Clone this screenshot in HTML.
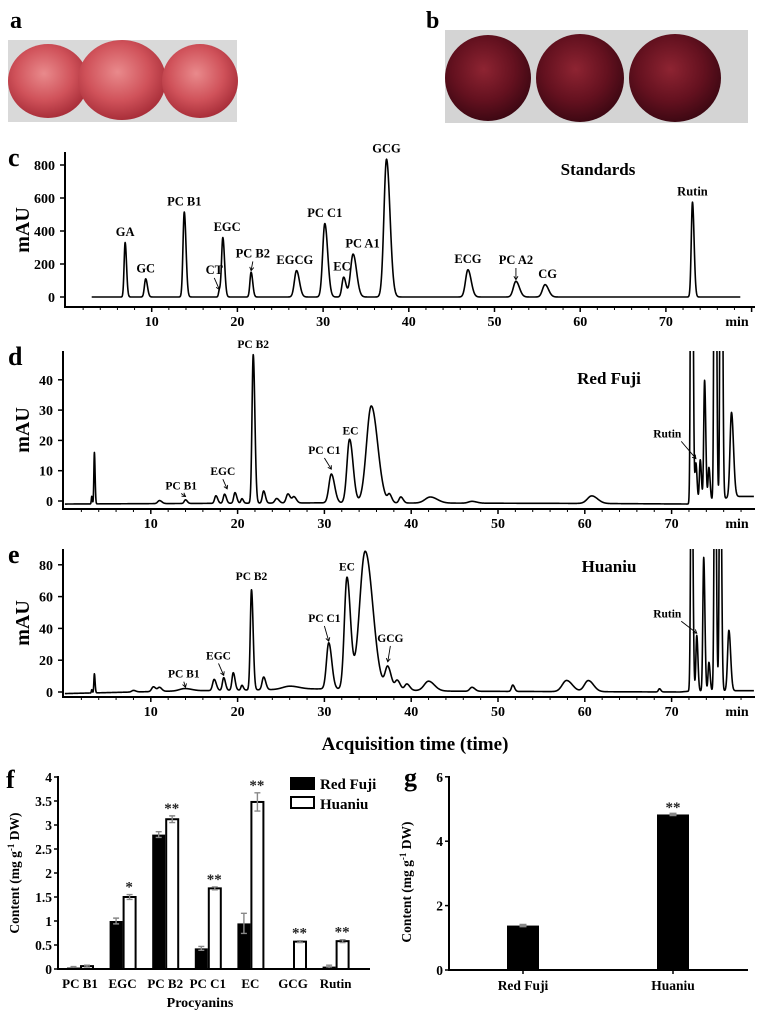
<!DOCTYPE html>
<html><head><meta charset="utf-8"><style>
html,body{margin:0;padding:0;background:#fff;}
svg{display:block;font-family:"Liberation Serif",serif;font-weight:bold;}
</style></head><body>
<svg id="fig" width="763" height="1017" viewBox="0 0 763 1017" xmlns="http://www.w3.org/2000/svg">
<defs>
<radialGradient id="appleA" cx="45%" cy="40%" r="60%"><stop offset="0" stop-color="#e98a8c"/><stop offset="0.6" stop-color="#d0525a"/><stop offset="1" stop-color="#a92f3a"/></radialGradient>
<radialGradient id="appleB" cx="45%" cy="40%" r="60%"><stop offset="0" stop-color="#8e2432"/><stop offset="0.6" stop-color="#64111f"/><stop offset="1" stop-color="#3e0813"/></radialGradient>
<clipPath id="clipD"><rect x="63" y="351" width="700" height="160"/></clipPath>
<clipPath id="clipE"><rect x="63" y="549" width="700" height="150"/></clipPath>
</defs>
<g>
<text x="10" y="28" font-size="24">a</text>
<rect x="8" y="40" width="229" height="82" fill="#d9d9d9"/>
<ellipse cx="48" cy="81" rx="40" ry="37" fill="url(#appleA)"/>
<ellipse cx="122" cy="80" rx="44" ry="40" fill="url(#appleA)"/>
<ellipse cx="200" cy="81" rx="38" ry="37" fill="url(#appleA)"/>
</g>
<g>
<text x="426" y="28" font-size="24">b</text>
<rect x="445" y="30" width="303" height="93" fill="#d4d4d4"/>
<ellipse cx="488" cy="78" rx="43" ry="43" fill="url(#appleB)"/>
<ellipse cx="580" cy="78" rx="44" ry="44" fill="url(#appleB)"/>
<ellipse cx="675" cy="78" rx="46" ry="44" fill="url(#appleB)"/>
</g>
<g id="chroms"></g>
<g id="bars"></g>
</svg>
<script>
// ---- Panel c (Standards) peaks ----
const cTimes = [6.9, 9.3, 13.8, 17.9, 18.3, 21.6, 26.9, 30.2, 32.4, 33.5, 37.4, 46.9, 52.5, 55.9, 73.1];
const cHeights = [330, 110, 515, 40, 360, 150, 160, 445, 120, 260, 835, 165, 95, 75, 575];
const cWidths = [0.12, 0.15, 0.15, 0.1, 0.15, 0.14, 0.25, 0.25, 0.2, 0.3, 0.3, 0.28, 0.3, 0.3, 0.14];
const cLabelNames = ["GA","GC","PC B1","CT","EGC","PC B2","EGCG","PC C1","EC","PC A1","GCG","ECG","PC A2","CG","Rutin"];
const cLabelT = [6.9, 9.3, 13.8, 17.3, 18.8, 21.8, 26.7, 30.2, 32.2, 34.6, 37.4, 46.9, 52.5, 56.2, 73.1];
const cLabelV = [370, 150, 555, 140, 400, 240, 200, 485, 160, 300, 875, 205, 200, 115, 615];
// ---- Panel d (Red Fuji) peaks ----
const dTimes = [3.2, 3.5, 11, 14, 17.5, 18.5, 19.7, 20.5, 21.8, 23, 24.5, 25.8, 26.5, 30.8, 32.9, 35.4, 37.5, 38.8, 42.2, 47, 60.8, 72.3, 72.8, 73.3, 73.8, 74.3, 75.0, 75.7, 76.9];
const dHeights = [2.5, 17, 1, 1.2, 2.5, 3, 3.5, 1.5, 49, 4, 1.5, 3, 2, 9.5, 21, 32, 2.5, 2, 2, 0.6, 2.5, 200, 13, 14, 40, 11, 200, 200, 28];
const dWidths = [0.05, 0.06, 0.2, 0.15, 0.15, 0.15, 0.15, 0.12, 0.14, 0.15, 0.2, 0.2, 0.2, 0.28, 0.3, 0.55, 0.2, 0.2, 0.6, 0.4, 0.5, 0.1, 0.1, 0.1, 0.1, 0.1, 0.1, 0.1, 0.17];
const dBaseT = [0, 30, 60, 72, 77.5, 80];
const dBaseV = [-1, -0.6, -0.8, -1, 1.5, 1.5];
const dLabelNames = ["PC B1","EGC","PC B2","PC C1","EC","Rutin"];
const dLabelT = [13.5, 18.3, 21.8, 30, 33, 69.5];
const dLabelV = [3.8, 8.5, 50.5, 15.5, 22, 21];
const dArrowT = [14, 18.8, null, 30.8, null, 72.8];
const dArrowV = [1.5, 4, null, 10.5, null, 14];
// ---- Panel e (Huaniu) peaks ----
const eTimes = [3.2, 3.5, 8, 10.3, 11, 13.9, 17.3, 18.4, 19.5, 20.5, 21.6, 23, 26, 30.5, 32.6, 34.7, 37.3, 38.4, 39.5, 42, 47, 51.7, 57.9, 60.4, 68.6, 72.3, 72.9, 73.7, 74.3, 75.0, 75.6, 76.6];
const eHeights = [2, 12, 1, 3, 2.5, 1.5, 7, 8, 11, 3, 63, 8, 2, 29, 70, 87, 14, 6, 4, 6, 2.5, 4, 7, 7, 2, 200, 35, 84, 18, 200, 200, 38];
const eWidths = [0.05, 0.06, 0.2, 0.2, 0.2, 0.6, 0.18, 0.15, 0.15, 0.12, 0.14, 0.18, 0.8, 0.26, 0.3, 0.65, 0.3, 0.25, 0.25, 0.5, 0.25, 0.15, 0.5, 0.45, 0.12, 0.1, 0.1, 0.1, 0.1, 0.1, 0.1, 0.15];
const eBaseT = [0, 12, 30, 45, 71, 72, 77, 80];
const eBaseV = [-1, 0.5, 2, 0.5, 0, 0.5, 0.8, 0.8];
const eLabelNames = ["PC B1","EGC","PC B2","PC C1","EC","GCG","Rutin"];
const eLabelT = [13.8, 17.8, 21.6, 30, 32.6, 37.6, 69.5];
const eLabelV = [9, 20.5, 70.5, 44, 76.5, 31.5, 47];
const eArrowT = [14, 18.4, null, 30.5, null, 37.3, 72.9];
const eArrowV = [3, 10.5, null, 32, null, 19, 37];
// ---- Panel f bars ----
const fCategories = ["PC B1","EGC","PC B2","PC C1","EC","GCG","Rutin"];
const fRedFuji = [0.03, 1.0, 2.8, 0.43, 0.95, 0, 0.05];
const fRedFujiErr = [0.02, 0.06, 0.06, 0.04, 0.21, 0, 0.03];
const fHuaniu = [0.06, 1.5, 3.12, 1.68, 3.48, 0.57, 0.58];
const fHuaniuErr = [0.02, 0.05, 0.07, 0.03, 0.19, 0.02, 0.03];
const fSig = ["", "*", "**", "**", "**", "**", "**"];
const fTicks = [0, 0.5, 1, 1.5, 2, 2.5, 3, 3.5, 4];
// ---- Panel g bars ----
const gCategories = ["Red Fuji","Huaniu"];
const gValues = [1.38, 4.83];
const gErr = [0.04, 0.04];
const gSig = ["", "**"];
const gTicks = [0, 2, 4, 6];

const NS = "http://www.w3.org/2000/svg";
function mk(parent, tag, attrs, text) {
  const el = document.createElementNS(NS, tag);
  for (const k in attrs) el.setAttribute(k, attrs[k]);
  if (text !== undefined) el.textContent = text;
  parent.appendChild(el);
  return el;
}
function interp(ts, vs, t) {
  if (t <= ts[0]) return vs[0];
  for (let i = 1; i < ts.length; i++) if (t <= ts[i]) return vs[i-1] + (vs[i]-vs[i-1])*(t-ts[i-1])/(ts[i]-ts[i-1]);
  return vs[vs.length-1];
}
function signal(times, heights, widths, t) {
  let s = 0;
  for (let i = 0; i < times.length; i++) {
    const w = t > times[i] ? widths[i]*1.35 : widths[i];
    const d = (t - times[i]) / w;
    if (Math.abs(d) < 8) s += heights[i] * Math.exp(-0.5*d*d);
  }
  return s;
}
const chroms = document.getElementById('chroms');

function drawChrom(cfg) {
  const g = mk(chroms, 'g', {});
  
  
  const X = t => cfg.x0 + cfg.kx * t;
  const Y = v => cfg.y0 - cfg.ky * v;
  // axes
  const ax = mk(g, 'g', {stroke: '#000', 'stroke-width': 2, fill: 'none'});
  
  
  mk(ax, 'line', {x1: cfg.axX, y1: cfg.axTop, x2: cfg.axX, y2: cfg.axY + 1});
  mk(ax, 'line', {x1: cfg.axX, y1: cfg.axY, x2: cfg.axRight, y2: cfg.axY});
  for (let t = 2; X(t) < cfg.axRight - 2; t += 2) {
    const major = t % 10 === 0;
    mk(ax, 'line', {x1: X(t), y1: cfg.axY, x2: X(t), y2: cfg.axY + (major ? 5 : 3), 'stroke-width': major ? 1.5 : 1});
  }
  for (let t = 10; t <= 70; t += 10) {
    const tl = mk(g, 'text', {x: X(t), y: cfg.axY + 19, 'font-size': 14, 'text-anchor': 'middle'}, String(t));
    
    
  }
  const mn = mk(g, 'text', {x: cfg.minX, y: cfg.axY + 19, 'font-size': 14, 'text-anchor': 'middle'}, 'min');
  
  
  cfg.yTicks.forEach(v => {
    mk(ax, 'line', {x1: cfg.axX - 5, y1: Y(v), x2: cfg.axX, y2: Y(v), 'stroke-width': 1.5});
    const yl = mk(g, 'text', {x: cfg.axX - 10, y: Y(v) + 5, 'font-size': 14, 'text-anchor': 'end'}, String(v));
    
    
  });
  const yt = mk(g, 'text', {x: 0, y: 0, 'font-size': 20, 'text-anchor': 'middle', transform: `translate(29,${cfg.titleY}) rotate(-90)`}, 'mAU');
  
  
  const pl = mk(g, 'text', {x: 8, y: cfg.axTop + 14, 'font-size': 26}, cfg.letter);
  
  
  const st = mk(g, 'text', {x: cfg.sampleX, y: cfg.sampleY, 'font-size': 17, 'text-anchor': 'middle'}, cfg.sample);
  
  
  // trace
  let d = '';
  for (let t = cfg.tStart; t <= cfg.tEnd; t += 0.02) {
    const v = signal(cfg.times, cfg.heights, cfg.widths, t) + (cfg.baseT ? interp(cfg.baseT, cfg.baseV, t) : 0);
    d += (d ? 'L' : 'M') + X(t).toFixed(2) + ',' + Y(v).toFixed(2);
  }
  const tr = mk(g, 'path', {d: d, fill: 'none', stroke: '#000', 'stroke-width': 1.6, 'stroke-linejoin': 'round'});
  if (cfg.clip) tr.setAttribute('clip-path', cfg.clip);
  
  
  // labels
  cfg.lNames.forEach((n, i) => {
    const lb = mk(g, 'text', {x: X(cfg.lT[i]), y: Y(cfg.lV[i]), 'font-size': cfg.lSize, 'text-anchor': 'middle'}, n);
    
    
    if (cfg.aT && cfg.aT[i] !== null) {
      const x1 = X(cfg.lT[i]) + (cfg.aT[i] > cfg.lT[i] + 1.5 ? 14 : 0);
      const y1 = Y(cfg.lV[i]) + 4;
      const x2 = X(cfg.aT[i]), y2 = Y(cfg.aV[i]);
      const ar = mk(g, 'g', {stroke: '#000', 'stroke-width': 0.9, fill: 'none'});
      
      
      mk(ar, 'line', {x1: x1, y1: y1, x2: x2, y2: y2});
      const ang = Math.atan2(y2 - y1, x2 - x1);
      const a1 = ang + 2.6, a2 = ang - 2.6;
      mk(ar, 'path', {d: `M${x2 + 4*Math.cos(a1)},${y2 + 4*Math.sin(a1)}L${x2},${y2}L${x2 + 4*Math.cos(a2)},${y2 + 4*Math.sin(a2)}`});
    }
  });
}

drawChrom({name: 'panel-c-standards', letter: 'c', x0: 66, kx: 8.57, y0: 297, ky: 0.165, axX: 65, axTop: 152, axY: 307, axRight: 755, minX: 737,
  yTicks: [0, 200, 400, 600, 800], titleY: 230, sample: 'Standards', sampleX: 598, sampleY: 175,
  times: cTimes, heights: cHeights, widths: cWidths, tStart: 3, tEnd: 78.7, baseT: [0, 80], baseV: [0, 0],
  lNames: cLabelNames, lT: cLabelT, lV: cLabelV, lSize: 12.5,
  aT: [null,null,null,17.9,null,21.6,null,null,null,null,null,null,52.5,null,null], aV: [null,null,null,45,null,160,null,null,null,null,null,null,105,null,null]});
drawChrom({name: 'panel-d-red-fuji', letter: 'd', x0: 64, kx: 8.68, y0: 501, ky: 3.03, axX: 63, axTop: 351, axY: 509, axRight: 755, minX: 737,
  yTicks: [0, 10, 20, 30, 40], titleY: 430, sample: 'Red Fuji', sampleX: 609, sampleY: 384, clip: 'url(#clipD)',
  times: dTimes, heights: dHeights, widths: dWidths, tStart: 0.1, tEnd: 79.5, baseT: dBaseT, baseV: dBaseV,
  lNames: dLabelNames, lT: dLabelT, lV: dLabelV, lSize: 11.5, aT: dArrowT, aV: dArrowV});
drawChrom({name: 'panel-e-huaniu', letter: 'e', x0: 64, kx: 8.68, y0: 692, ky: 1.59, axX: 63, axTop: 549, axY: 697, axRight: 755, minX: 737,
  yTicks: [0, 20, 40, 60, 80], titleY: 623, sample: 'Huaniu', sampleX: 609, sampleY: 572, clip: 'url(#clipE)',
  times: eTimes, heights: eHeights, widths: eWidths, tStart: 0.1, tEnd: 79.5, baseT: eBaseT, baseV: eBaseV,
  lNames: eLabelNames, lT: eLabelT, lV: eLabelV, lSize: 11.5, aT: eArrowT, aV: eArrowV});
const xt = mk(chroms, 'text', {x: 415, y: 750, 'font-size': 19, 'text-anchor': 'middle'}, 'Acquisition time (time)');



// ---- bar charts ----
const bars = document.getElementById('bars');
function contentTitle(parent, x, y) {
  const t = mk(parent, 'text', {x: 0, y: 0, 'font-size': 13.5, 'text-anchor': 'middle', transform: `translate(${x},${y}) rotate(-90)`});
  
  
  mk(t, 'tspan', {}, 'Content  (mg g');
  mk(t, 'tspan', {dy: -5, 'font-size': 9}, '-1');
  mk(t, 'tspan', {dy: 5}, ' DW)');
}
// panel f
(function(){
  const g = mk(bars, 'g', {});
  
  
  const axX = 58, y0 = 969, ky = 48, axRight = 370;
  const Y = v => y0 - ky * v;
  const cx = i => 80 + i * 42.6;
  const bw = 13;
  const pl = mk(g, 'text', {x: 6, y: 788, 'font-size': 26}, 'f');
  
  
  fTicks.forEach(v => {
    mk(g, 'line', {x1: axX - 4, y1: Y(v), x2: axX, y2: Y(v), stroke: '#000', 'stroke-width': 1.5});
    const tl = mk(g, 'text', {x: axX - 6, y: Y(v) + 5, 'font-size': 13.5, 'text-anchor': 'end'}, String(v));
    
    
  });
  fCategories.forEach((c, i) => {
    const x = cx(i);
    const r = mk(g, 'rect', {x: x - bw, y: Y(fRedFuji[i]), width: bw, height: ky * fRedFuji[i], fill: '#000'});
    
    
    const h = mk(g, 'rect', {x: x + 1, y: Y(fHuaniu[i]), width: bw - 1, height: ky * fHuaniu[i], fill: '#fff', stroke: '#000', 'stroke-width': 2});
    
    
    [[x - bw/2, fRedFuji[i], fRedFujiErr[i]], [x + bw/2 + 0.5, fHuaniu[i], fHuaniuErr[i]]].forEach(e => {
      if (e[2] <= 0) return;
      const eb = mk(g, 'path', {d: `M${e[0]-3},${Y(e[1]+e[2])}H${e[0]+3}M${e[0]},${Y(e[1]+e[2])}V${Y(e[1]-e[2])}M${e[0]-3},${Y(e[1]-e[2])}H${e[0]+3}`, stroke: '#888', 'stroke-width': 1.4, fill: 'none'});
      
      
    });
    if (fSig[i]) {
      const s = mk(g, 'text', {x: x + bw/2, y: Y(fHuaniu[i] + fHuaniuErr[i]) - 3, 'font-size': 15, 'text-anchor': 'middle', fill: '#222'}, fSig[i]);
      
      
    }
    const cl = mk(g, 'text', {x: x, y: 988, 'font-size': 13, 'text-anchor': 'middle'}, c);
    
    
  });
  mk(g, 'line', {x1: axX, y1: 776, x2: axX, y2: y0 + 1, stroke: '#000', 'stroke-width': 2});
  mk(g, 'line', {x1: axX, y1: y0, x2: axRight, y2: y0, stroke: '#000', 'stroke-width': 2});
  const xtl = mk(g, 'text', {x: 200, y: 1007, 'font-size': 14, 'text-anchor': 'middle'}, 'Procyanins');
  
  
  contentTitle(g, 19, 873);
  const lg = mk(g, 'g', {});
  
  
  const l1 = mk(lg, 'g', {});
  
  
  mk(l1, 'rect', {x: 290, y: 777, width: 25, height: 13, fill: '#000'});
  mk(l1, 'text', {x: 320, y: 789, 'font-size': 15}, 'Red Fuji');
  const l2 = mk(lg, 'g', {});
  
  
  mk(l2, 'rect', {x: 291, y: 797, width: 23, height: 11, fill: '#fff', stroke: '#000', 'stroke-width': 2});
  mk(l2, 'text', {x: 320, y: 809, 'font-size': 15}, 'Huaniu');
})();
// panel g
(function(){
  const g = mk(bars, 'g', {});
  
  
  const axX = 449, y0 = 970, ky = 32.2, axRight = 748;
  const Y = v => y0 - ky * v;
  const cx = i => 523 + i * 150;
  const bw = 32;
  const pl = mk(g, 'text', {x: 404, y: 786, 'font-size': 26}, 'g');
  
  
  gTicks.forEach(v => {
    mk(g, 'line', {x1: axX - 4, y1: Y(v), x2: axX, y2: Y(v), stroke: '#000', 'stroke-width': 1.5});
    const tl = mk(g, 'text', {x: axX - 6, y: Y(v) + 5, 'font-size': 13.5, 'text-anchor': 'end'}, String(v));
    
    
  });
  gCategories.forEach((c, i) => {
    const x = cx(i);
    const r = mk(g, 'rect', {x: x - bw/2, y: Y(gValues[i]), width: bw, height: ky * gValues[i], fill: '#000'});
    
    
    const eb = mk(g, 'path', {d: `M${x-3},${Y(gValues[i]+gErr[i])}H${x+3}V${Y(gValues[i]-gErr[i])}H${x-3}Z`, fill: '#888', stroke: '#888'});
    
    
    if (gSig[i]) {
      const s = mk(g, 'text', {x: x, y: Y(gValues[i] + gErr[i]) - 1, 'font-size': 15, 'text-anchor': 'middle', fill: '#222'}, gSig[i]);
      
      
    }
    mk(g, 'line', {x1: x, y1: y0, x2: x, y2: y0 + 4, stroke: '#000', 'stroke-width': 1.5});
    const cl = mk(g, 'text', {x: x, y: 990, 'font-size': 13.5, 'text-anchor': 'middle'}, c);
    
    
  });
  mk(g, 'line', {x1: axX, y1: 776, x2: axX, y2: y0 + 1, stroke: '#000', 'stroke-width': 2});
  mk(g, 'line', {x1: axX, y1: y0, x2: axRight, y2: y0, stroke: '#000', 'stroke-width': 2});
  contentTitle(g, 411, 882);
})();
</script>
</body></html>
